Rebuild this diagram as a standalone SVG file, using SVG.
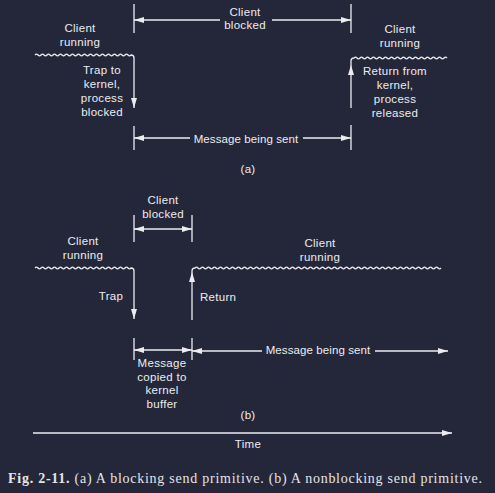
<svg xmlns="http://www.w3.org/2000/svg" width="495" height="493" viewBox="0 0 495 493">
<defs>
<style>
.t{font-family:"Liberation Sans",Arial,sans-serif;font-size:11.5px;fill:#ececf0;text-anchor:middle;letter-spacing:0.3px}
.m{letter-spacing:0.1px}
.ln{stroke:#ececf0;stroke-width:1.3;fill:none}
.tk{stroke:#ececf0;stroke-width:1.3}
.cap{font-family:"Liberation Serif","Times New Roman",serif;font-size:14px;fill:#e4e4e8}
</style>
<marker id="ah" viewBox="0 0 10 6" refX="10" refY="3" markerWidth="10" markerHeight="6" markerUnits="userSpaceOnUse" orient="auto-start-reverse">
<path d="M0,0 L10,3 L0,6 Z" fill="#ececf0"/>
</marker>
</defs>
<rect width="495" height="493" fill="#242739"/>
<g id="connectors">
<line class="tk" x1="134" y1="4" x2="134" y2="33"/>
<line class="tk" x1="351" y1="4" x2="351" y2="33"/>
<line class="tk" x1="134" y1="126" x2="134" y2="150"/>
<line class="tk" x1="351" y1="125" x2="351" y2="150"/>
<path class="ln" d="M220,20 H134" marker-end="url(#ah)"/>
<path class="ln" d="M272,20 H351" marker-end="url(#ah)"/>
<path class="ln" d="M190,138 H134" marker-end="url(#ah)"/>
<path class="ln" d="M303,138 H351" marker-end="url(#ah)"/>
<path class="ln" d="M35,55 q1.5,-1.8 3,0 t3,0 t3,0 t3,0 t3,0 t3,0 t3,0 t3,0 t3,0 t3,0 t3,0 t3,0 t3,0 t3,0 t3,0 t3,0 t3,0 t3,0 t3,0 t3,0 t3,0 t3,0 t3,0 t3,0 t3,0 t3,0 t3,0 t3,0 t3,0 t3,0 t3,0 t3,0 q3,0 3,3 V108" marker-end="url(#ah)"/>
<path class="ln" d="M351,108 V61 q0,-3 3,-3 q1.5,-1.8 3,0 t3,0 t3,0 t3,0 t3,0 t3,0 t3,0 t3,0 t3,0 t3,0 t3,0 t3,0 t3,0 t3,0 t3,0 t3,0 t3,0 t3,0 t3,0 t3,0 t3,0 t3,0 t3,0 t3,0 t3,0 t3,0 t3,0 t3,0 t3,0 t3,0 t3,0"/>
<path d="M351,65 L354,75 L348,75 Z" fill="#ececf0"/>
<line class="tk" x1="134" y1="215" x2="134" y2="242"/>
<line class="tk" x1="192" y1="215" x2="192" y2="242"/>
<line class="tk" x1="134" y1="338" x2="134" y2="360"/>
<line class="tk" x1="192" y1="338" x2="192" y2="360"/>
<path class="ln" d="M134,229 H192" marker-start="url(#ah)" marker-end="url(#ah)"/>
<path class="ln" d="M134,350 H192" marker-start="url(#ah)" marker-end="url(#ah)"/>
<path class="ln" d="M262,351 H192" marker-end="url(#ah)"/>
<path class="ln" d="M375,351 H448" marker-end="url(#ah)"/>
<path class="ln" d="M35,268 q1.5,-1.8 3,0 t3,0 t3,0 t3,0 t3,0 t3,0 t3,0 t3,0 t3,0 t3,0 t3,0 t3,0 t3,0 t3,0 t3,0 t3,0 t3,0 t3,0 t3,0 t3,0 t3,0 t3,0 t3,0 t3,0 t3,0 t3,0 t3,0 t3,0 t3,0 t3,0 t3,0 t3,0 q3,0 3,3 V319" marker-end="url(#ah)"/>
<path class="ln" d="M192,320 V271 q0,-3 3,-3 q1.5,-1.8 3,0 t3,0 t3,0 t3,0 t3,0 t3,0 t3,0 t3,0 t3,0 t3,0 t3,0 t3,0 t3,0 t3,0 t3,0 t3,0 t3,0 t3,0 t3,0 t3,0 t3,0 t3,0 t3,0 t3,0 t3,0 t3,0 t3,0 t3,0 t3,0 t3,0 t3,0 t3,0 t3,0 t3,0 t3,0 t3,0 t3,0 t3,0 t3,0 t3,0 t3,0 t3,0 t3,0 t3,0 t3,0 t3,0 t3,0 t3,0 t3,0 t3,0 t3,0 t3,0 t3,0 t3,0 t3,0 t3,0 t3,0 t3,0 t3,0 t3,0 t3,0 t3,0 t3,0 t3,0 t3,0 t3,0 t3,0 t3,0 t3,0 t3,0 t3,0 t3,0 t3,0 t3,0 t3,0 t3,0 t3,0 t3,0 t3,0 t3,0 t3,0 t3,0"/>
<path d="M192,272 L195,282 L189,282 Z" fill="#ececf0"/>
<path class="ln" d="M33,433 H452" marker-end="url(#ah)"/>
</g>
<g id="a-client-running-left"><text class="t" x="80" y="32">Client</text><text class="t" x="80" y="46">running</text></g>
<g id="a-client-blocked"><text class="t" x="245" y="16">Client</text><text class="t" x="245" y="29">blocked</text></g>
<g id="a-client-running-right"><text class="t" x="400" y="33">Client</text><text class="t" x="400" y="47">running</text></g>
<g id="a-trap"><text class="t" x="102" y="74">Trap to</text><text class="t" x="102" y="88">kernel,</text><text class="t" x="102" y="102">process</text><text class="t" x="102" y="116">blocked</text></g>
<g id="a-return"><text class="t" x="395" y="75">Return from</text><text class="t" x="395" y="89">kernel,</text><text class="t" x="395" y="103">process</text><text class="t" x="395" y="117">released</text></g>
<g id="a-message"><text class="t m" x="246" y="143">Message being sent</text></g>
<g id="a-label"><text class="t" x="248" y="173">(a)</text></g>
<g id="b-client-blocked"><text class="t" x="163" y="204">Client</text><text class="t" x="163" y="218">blocked</text></g>
<g id="b-client-running-left"><text class="t" x="83" y="245">Client</text><text class="t" x="83" y="259">running</text></g>
<g id="b-trap"><text class="t" x="111" y="300">Trap</text></g>
<g id="b-return"><text class="t" x="200" y="301" style="text-anchor:start">Return</text></g>
<g id="b-client-running-right"><text class="t" x="320" y="247">Client</text><text class="t" x="320" y="261">running</text></g>
<g id="b-message"><text class="t m" x="318" y="354">Message being sent</text></g>
<g id="b-copied"><text class="t" x="162" y="367">Message</text><text class="t" x="162" y="381">copied to</text><text class="t" x="162" y="394">kernel</text><text class="t" x="162" y="408">buffer</text></g>
<g id="b-label"><text class="t" x="248" y="419">(b)</text></g>
<g id="time"><text class="t" x="248" y="448">Time</text></g>
<g id="caption"><text class="cap" x="8" y="483" textLength="474" lengthAdjust="spacing"><tspan font-weight="bold">Fig.  2-11.</tspan> (a) A blocking send primitive.  (b) A nonblocking send primitive.</text></g>
</svg>
